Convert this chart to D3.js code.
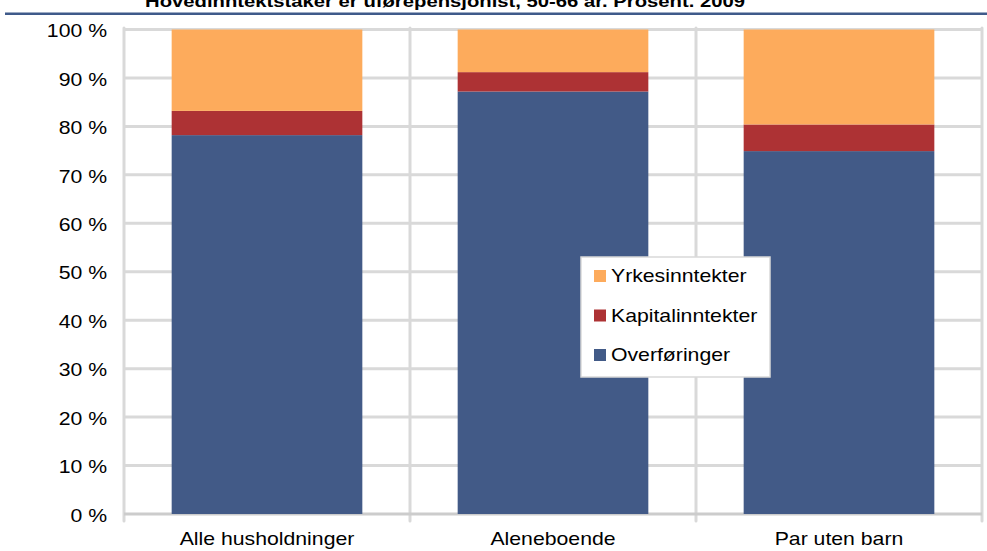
<!DOCTYPE html>
<html>
<head>
<meta charset="utf-8">
<script src="https://cdn.jsdelivr.net/npm/d3@7"></script>
<style>
  html, body { margin: 0; padding: 0; background: #fff; }
  svg { display: block; font-family: "Liberation Sans", Arial, sans-serif; }
</style>
</head>
<body>
<svg id="chart" width="987" height="551"></svg>
<script>
// Household types and income composition (percent of total income)
const categories = ["Alle husholdninger", "Aleneboende", "Par uten barn"];
const overforinger = [78.2, 87.2, 74.9];
const kapitalinntekter = [5.0, 4.0, 5.5];
const yrkesinntekter = [16.8, 8.8, 19.6];
const seriesNames = ["Overføringer", "Kapitalinntekter", "Yrkesinntekter"];
const seriesColors = ["#425a87", "#ad3234", "#fdab5c"];
const yTicks = [0, 10, 20, 30, 40, 50, 60, 70, 80, 90, 100];
const titleText = "Hovedinntektstaker er uførepensjonist, 50-66 år. Prosent. 2009";

const FONT = "Liberation Sans, Arial, sans-serif";
const FS = 18;      // label font size
const SX = 1.18;    // horizontal stretch of the label glyphs

const svg = d3.select("#chart");
const margin = { left: 124, right: 5, top: 29.5, bottom: 37 };
const W = 987, H = 551;
const plotW = W - margin.left - margin.right;
const plotH = H - margin.top - margin.bottom;

// Stretch text horizontally around its own anchor x
function stretch(sel, sx) {
  sel.each(function () {
    const t = d3.select(this);
    const ax = +t.attr("x") || 0;
    t.attr("transform", `translate(${ax},0) scale(${sx},1) translate(${-ax},0)`);
  });
}

const rows = categories.map((c, i) => ({
  cat: c,
  "Overføringer": overforinger[i],
  "Kapitalinntekter": kapitalinntekter[i],
  "Yrkesinntekter": yrkesinntekter[i]
}));
const stacked = d3.stack().keys(seriesNames)(rows);

const x = d3.scaleBand().domain(categories).range([0, plotW]).paddingInner(0).paddingOuter(0);
const barW = x.bandwidth() * 2 / 3;
const y = d3.scaleLinear().domain([0, 100]).range([plotH, 0]);

// Title (its upper part runs past the top edge) and the rule below it
svg.append("text")
  .attr("x", 445).attr("y", 6.5)
  .attr("text-anchor", "middle")
  .attr("font-weight", "bold")
  .attr("font-size", 17)
  .attr("fill", "#000")
  .attr("textLength", 600)
  .attr("lengthAdjust", "spacingAndGlyphs")
  .text(titleText);
svg.append("rect").attr("x", 5).attr("y", 12.5).attr("width", 982).attr("height", 2.5).attr("fill", "#3f5a8a");

const g = svg.append("g").attr("transform", `translate(${margin.left},${margin.top})`);

// Horizontal gridlines
g.append("g").selectAll("line").data(yTicks.filter(d => d > 0)).join("line")
  .attr("x1", 0).attr("x2", plotW)
  .attr("y1", d => y(d)).attr("y2", d => y(d))
  .attr("stroke", "#d9d9d9").attr("stroke-width", 3);

// Vertical gridlines at category boundaries
const bounds = categories.map(c => x(c)).concat([plotW]);
g.append("g").selectAll("line").data(bounds).join("line")
  .attr("x1", d => d).attr("x2", d => d)
  .attr("y1", y(100) - 1.5).attr("y2", y(0) + 7)
  .attr("stroke", "#d9d9d9").attr("stroke-width", 3)
  .attr("stroke-linecap", "round");

// Baseline
g.append("line")
  .attr("x1", 0).attr("x2", plotW)
  .attr("y1", y(0)).attr("y2", y(0))
  .attr("stroke", "#cccccc").attr("stroke-width", 3);

// Stacked bars
g.append("g").selectAll("g").data(stacked).join("g")
  .attr("fill", (d, i) => seriesColors[i])
  .selectAll("rect").data(d => d).join("rect")
  .attr("x", d => x(d.data.cat) + (x.bandwidth() - barW) / 2)
  .attr("width", barW)
  .attr("y", d => y(d[1]))
  .attr("height", d => y(d[0]) - y(d[1]));

// Y axis labels
const yAxis = d3.axisLeft(y).tickValues(yTicks).tickFormat(d => d + " %").tickSize(0).tickPadding(17);
const ya = g.append("g").call(yAxis);
ya.attr("font-size", FS).attr("font-family", FONT);
ya.select(".domain").remove();
ya.selectAll("text").attr("fill", "#000").attr("dy", "0.4em").call(stretch, SX);

// X axis labels
const xAxis = d3.axisBottom(x).tickSize(0).tickPadding(18);
const xa = g.append("g").attr("transform", `translate(0,${plotH})`).call(xAxis);
xa.attr("font-size", FS).attr("font-family", FONT);
xa.select(".domain").remove();
xa.selectAll("text").attr("fill", "#000").call(stretch, SX);

// Legend
const legend = svg.append("g").attr("transform", "translate(581,257)");
legend.append("rect").attr("x", 0).attr("y", 0).attr("width", 189).attr("height", 120)
  .attr("fill", "#fff").attr("stroke", "#d9d9d9").attr("stroke-width", 1.5);
const legendOrder = [2, 1, 0];
legendOrder.forEach((si, k) => {
  const ly = 19 + k * 39.5;
  legend.append("rect").attr("x", 13).attr("y", ly - 6).attr("width", 12).attr("height", 12)
    .attr("fill", seriesColors[si]);
  legend.append("text").attr("x", 30).attr("y", ly + 6.5)
    .attr("font-size", FS).attr("font-family", FONT).attr("fill", "#000")
    .text(seriesNames[si])
    .call(stretch, SX);
});
</script>
</body>
</html>
